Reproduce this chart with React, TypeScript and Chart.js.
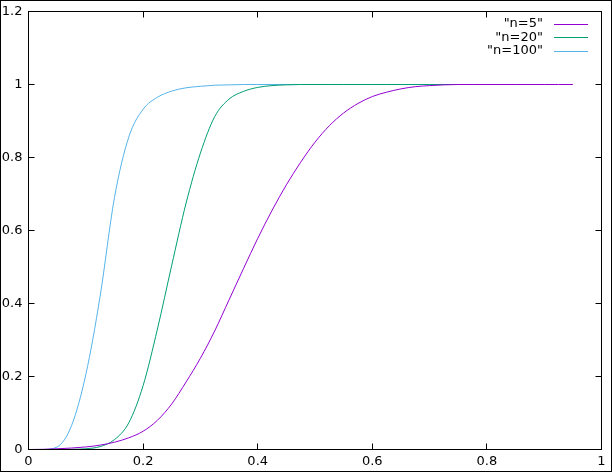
import React, { useEffect, useRef } from "react";
import { Chart, registerables } from "chart.js";

Chart.register(...registerables);

// x positions shared by the series
const xValues = [
  0, 0.025, 0.05, 0.075, 0.1, 0.125, 0.15, 0.175, 0.2, 0.225,
  0.25, 0.275, 0.3, 0.325, 0.35, 0.375, 0.4, 0.425, 0.45, 0.475,
  0.5, 0.525, 0.55, 0.575, 0.6, 0.625, 0.65, 0.675, 0.7, 0.725,
  0.75, 0.775, 0.8, 0.825, 0.85, 0.875, 0.9, 0.925, 0.95,
];

const seriesLabels = ['"n=5"', '"n=20"', '"n=100"'];
const seriesColors = ["#9400D3", "#009E73", "#56B4E9"];

// n=5 (x 0 .. 0.95)
const n5 = [
  0, 0.0005, 0.002, 0.004, 0.007, 0.012, 0.02, 0.032, 0.05, 0.08,
  0.125, 0.185, 0.25, 0.325, 0.41, 0.495, 0.578, 0.655, 0.725, 0.787,
  0.842, 0.887, 0.922, 0.948, 0.967, 0.979, 0.988, 0.994, 0.997, 0.999,
  1, 1, 1, 1, 1, 1, 1, 1, 1,
];
// n=20 (x 0 .. 0.9)
const n20 = [
  0, 0, 0, 0.0005, 0.002, 0.008, 0.027, 0.073, 0.175, 0.33,
  0.505, 0.675, 0.812, 0.912, 0.96, 0.981, 0.992, 0.997, 0.999, 1,
  1, 1, 1, 1, 1, 1, 1, 1, 1, 1,
  1, 1, 1, 1, 1, 1, 1,
];
// n=100 (x 0 .. 0.9)
const n100 = [
  0, 0, 0.007, 0.065, 0.205, 0.42, 0.69, 0.856, 0.932, 0.965,
  0.982, 0.991, 0.995, 0.998, 0.999, 1, 1, 1, 1, 1,
  1, 1, 1, 1, 1, 1, 1, 1, 1, 1,
  1, 1, 1, 1, 1, 1, 1,
];

const xTickValues = [0, 0.2, 0.4, 0.6, 0.8, 1];
const xTickLabels = ["0", "0.2", "0.4", "0.6", "0.8", "1"];
const yTickValues = [0, 0.2, 0.4, 0.6, 0.8, 1, 1.2];
const yTickLabels = ["0", "0.2", "0.4", "0.6", "0.8", "1", "1.2"];

const FONT = '13px "DejaVu Sans"';

const framePlugin = {
  id: "gnuplotFrame",
  afterDraw(chart: any) {
    const ctx = chart.ctx;
    const a = chart.chartArea;
    const xs = chart.scales.x;
    const ys = chart.scales.y;
    ctx.save();
    ctx.strokeStyle = "#000";
    ctx.lineWidth = 1;
    // outer frame
    ctx.strokeRect(0.5, 0.5, chart.width - 1, chart.height - 1);
    // plot border
    ctx.strokeRect(a.left, a.top, a.right - a.left, a.bottom - a.top);
    const TL = 6;
    ctx.beginPath();
    xTickValues.forEach((v) => {
      const px = Math.floor(xs.getPixelForValue(v)) + 0.5;
      ctx.moveTo(px, a.bottom);
      ctx.lineTo(px, a.bottom - TL);
      ctx.moveTo(px, a.top);
      ctx.lineTo(px, a.top + TL);
    });
    yTickValues.forEach((v) => {
      const py = Math.floor(ys.getPixelForValue(v)) + 0.5;
      ctx.moveTo(a.left, py);
      ctx.lineTo(a.left + TL, py);
      ctx.moveTo(a.right, py);
      ctx.lineTo(a.right - TL, py);
    });
    ctx.stroke();
    // legend
    ctx.font = FONT;
    ctx.textAlign = "right";
    ctx.textBaseline = "middle";
    const rows = [24, 37.5, 51];
    chart.data.datasets.forEach((ds: any, i: number) => {
      const y = rows[i];
      ctx.fillStyle = "#000";
      ctx.fillText(ds.label, 543, y);
      ctx.strokeStyle = ds.borderColor;
      ctx.beginPath();
      ctx.moveTo(554, Math.floor(y) + 0.5);
      ctx.lineTo(588, Math.floor(y) + 0.5);
      ctx.stroke();
    });
    ctx.restore();
  },
};

export default function App() {
  const ref = useRef<HTMLCanvasElement | null>(null);
  useEffect(() => {
    document.body.style.margin = "0";
    const canvas = ref.current;
    if (!canvas) return;
    const make = (ys: number[]) => ys.map((y, i) => ({ x: xValues[i], y }));
    const chart = new Chart(canvas, {
      type: "line",
      data: {
        datasets: [n5, n20, n100].map((ys, i) => ({
          label: seriesLabels[i],
          data: make(ys),
          borderColor: seriesColors[i],
          backgroundColor: seriesColors[i],
          borderWidth: 1,
          pointRadius: 0,
          fill: false,
          cubicInterpolationMode: "monotone" as const,
        })),
      },
      options: {
        animation: false,
        responsive: false,
        devicePixelRatio: 1,
        layout: { padding: { left: 0, top: 11.5, right: 10.5, bottom: 0 } },
        plugins: { legend: { display: false }, tooltip: { enabled: false } },
        scales: {
          x: {
            type: "linear",
            min: 0,
            max: 1,
            border: { display: false },
            grid: { display: false, drawTicks: false },
            afterBuildTicks: (s: any) => {
              s.ticks = xTickValues.map((v) => ({ value: v }));
            },
            afterFit: (s: any) => {
              s.height = 22.5;
            },
            ticks: {
              padding: 4,
              maxRotation: 0,
              autoSkip: false,
              color: "#000",
              font: { family: "DejaVu Sans", size: 13 },
              callback: (_v: any, i: number) => xTickLabels[i],
            },
          },
          y: {
            type: "linear",
            min: 0,
            max: 1.2,
            border: { display: false },
            grid: { display: false, drawTicks: false },
            afterBuildTicks: (s: any) => {
              s.ticks = yTickValues.map((v) => ({ value: v }));
            },
            afterFit: (s: any) => {
              s.width = 28.5;
            },
            ticks: {
              padding: 6,
              autoSkip: false,
              color: "#000",
              font: { family: "DejaVu Sans", size: 13, lineHeight: 0.8 },
              callback: (_v: any, i: number) => yTickLabels[i],
            },
          },
        },
      },
      plugins: [framePlugin],
    });
    return () => chart.destroy();
  }, []);
  return (
    <div style={{ position: "absolute", left: 0, top: 0, width: 612, height: 472, background: "#fff" }}>
      <canvas ref={ref} width={612} height={472} style={{ display: "block" }} />
    </div>
  );
}
